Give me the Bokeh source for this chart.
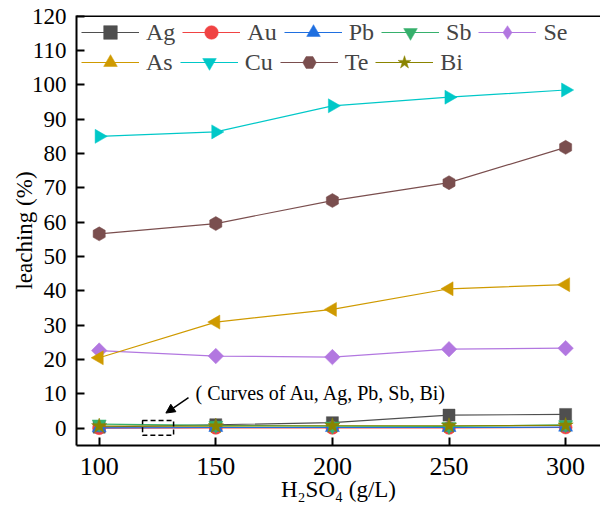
import numpy as np
from bokeh.plotting import figure
from bokeh.models import (Legend, LegendItem, FixedTicker, Arrow, Span,
                          NormalHead, BoxAnnotation, Label, Range1d)
from bokeh.embed import file_html
from bokeh.resources import INLINE

# ---- data ----
h2so4 = [100, 150, 200, 250, 300]
ag = [0.3, 1.0, 1.6, 3.8, 4.0]
au = [0.0, 0.1, 0.1, 0.1, 0.2]
pb = [0.1, 0.2, 0.2, 0.2, 0.3]
sb = [1.2, 0.8, 0.6, 0.5, 1.0]
se = [22.6, 21.0, 20.7, 23.0, 23.3]
as_ = [20.5, 30.9, 34.6, 40.6, 41.8]
cu = [85.0, 86.3, 93.9, 96.4, 98.5]
te = [56.6, 59.6, 66.3, 71.5, 81.8]
bi = [0.6, 0.6, 0.7, 0.7, 0.8]

names = ["Ag", "Au", "Pb", "Sb", "Se", "As", "Cu", "Te", "Bi"]
series = [ag, au, pb, sb, se, as_, cu, te, bi]
colors = ["#4f4f4f", "#f04343", "#1f6fe0", "#36b06c", "#b277e0",
          "#cf9a00", "#00c8c8", "#7a4e4e", "#8a8400"]
markers = ["square", "circle", "triangle", "inverted_triangle", "square",
           "triangle", "inverted_triangle", "hex", "star"]
angles = [0.0, 0.0, 0.0, 0.0, 0.7853981634, 1.5707963268, 1.5707963268,
          0.5235987756, 0.0]
sizes = [12, 13, 14, 14, 11, 14, 14, 14, 16]
# legend marker for series whose plot marker is a rotated shape
legend_markers = {"Se": "diamond"}

yticks = list(range(0, 121, 10))
xticks = h2so4

FONT = "Liberation Serif"

p = figure(width=600, height=519, output_backend="svg", toolbar_location=None,
           x_range=Range1d(90.27, 314.96), y_range=Range1d(-5.05, 120.2),
           min_border_left=76, min_border_right=0, min_border_top=15,
           min_border_bottom=74)
p.xgrid.visible = False
p.ygrid.visible = False
p.outline_line_color = None
p.background_fill_color = "white"

xa = p.below[0]
ya = p.left[0]
for ax in (xa, ya):
    ax.axis_line_width = 2
    ax.axis_line_color = "black"
    ax.major_tick_in = 8
    ax.major_tick_out = 0
    ax.major_tick_line_width = 2
    ax.major_tick_line_color = "black"
    ax.minor_tick_line_color = None
    ax.major_label_text_font = FONT
    ax.major_label_text_color = "black"
    ax.axis_label_text_font = FONT
    ax.axis_label_text_font_style = "normal"
    ax.axis_label_text_color = "black"
    ax.axis_label_text_font_size = "23px"
xa.ticker = FixedTicker(ticks=xticks)
ya.ticker = FixedTicker(ticks=yticks)
xa.major_label_text_font_size = "26px"
ya.major_label_text_font_size = "23px"
xa.major_label_standoff = 12
ya.major_label_standoff = 10
xa.axis_label = "H\u2082SO\u2084 (g/L)"
ya.axis_label = "leaching (%)"
xa.axis_label_standoff = -1
ya.axis_label_standoff = -8

# top border line
p.add_layout(Span(location=120.2, dimension="width", line_color="black",
                  line_width=3))

items = []
for name, ys, c, m, a, s in zip(names, series, colors, markers, angles, sizes):
    lr = p.line(h2so4, ys, line_color=c, line_width=1.2)
    sr = p.scatter(h2so4, ys, marker=m, size=s, angle=a, angle_units="rad",
                   fill_color=c, line_color=c, line_width=0.5)
    if name in legend_markers:
        proxy = p.scatter([np.nan], [np.nan], marker=legend_markers[name],
                          fill_color=c, line_color=c, line_width=0.5)
        items.append(LegendItem(label=name, renderers=[lr, proxy]))
    else:
        items.append(LegendItem(label=name, renderers=[lr, sr]))

common = dict(orientation="horizontal", padding=0, spacing=7, margin=0,
              glyph_width=58, glyph_height=34, label_height=24,
              label_standoff=7, label_text_font=FONT,
              label_text_font_size="24px", border_line_color=None,
              background_fill_alpha=0)
legend1 = Legend(items=items[:5], location=(5, 396), **common)
legend2 = Legend(items=items[5:], location=(5, 366), **common)
p.add_layout(legend1, "center")
p.add_layout(legend2, "center")

# ---- annotation ----
box_left, box_right, box_bottom, box_top = 118.6, 131.9, -2.1, 2.2
p.add_layout(BoxAnnotation(left=box_left, right=box_right, bottom=box_bottom,
                           top=box_top, fill_alpha=0, line_color="black",
                           line_alpha=1.0, line_width=1.5, line_dash="5 3"))
p.add_layout(Arrow(x_start=138.3, y_start=8.9, x_end=128.6, y_end=4.4,
                   line_width=1.5, line_color="black",
                   end=NormalHead(size=9, fill_color="black",
                                  line_color="black")))
p.add_layout(Label(x=141.3, y=10.2, text="( Curves of Au, Ag, Pb, Sb, Bi)",
                   text_font=FONT, text_font_size="20px",
                   text_baseline="middle", text_color="black"))

open("out.html", "w").write(file_html(p, INLINE))
